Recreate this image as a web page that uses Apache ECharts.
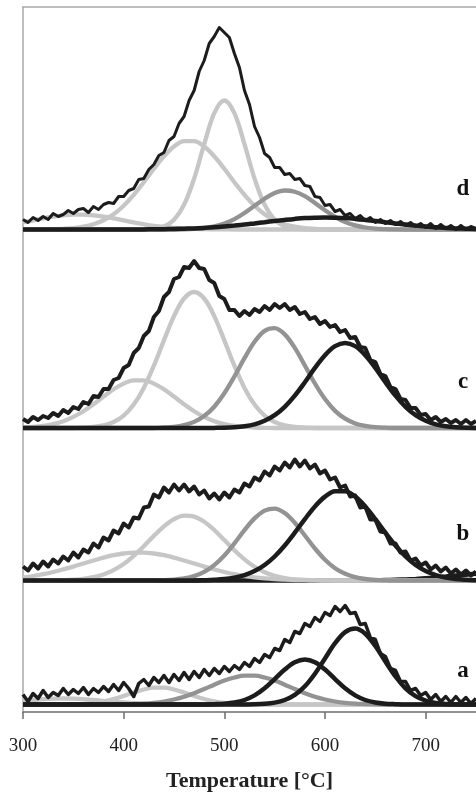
<!DOCTYPE html>
<html><head><meta charset="utf-8">
<script src="https://cdn.jsdelivr.net/npm/echarts@6/dist/echarts.min.js"></script>
<style>html,body{margin:0;padding:0;background:#fff}#c{width:476px;height:797px}</style>
</head><body><div id="c"></div>
<script>
// ---- data ----
const temps10 = [300,310,320,330,340,350,360,370,380,390,400,410,420,430,440,450,460,470,480,490,500,510,520,530,540,550,560,570,580,590,600,610,620,630,640,650,660,670,680,690,700,710,720,730,740,750];
const temps5 = [300,305,310,315,320,325,330,335,340,345,350,355,360,365,370,375,380,385,390,395,400,405,410,415,420,425,430,435,440,445,450,455,460,465,470,475,480,485,490,495,500,505,510,515,520,525,530,535,540,545,550,555,560,565,570,575,580,585,590,595,600,605,610,615,620,625,630,635,640,645,650,655,660,665,670,675,680,685,690,695,700,705,710,715,720,725,730,735,740,745,750];
const xTicks = [300,400,500,600,700];
const panelLabels = ['d','c','b','a'];
const xTitle = 'Temperature [°C]';

// panel d
const dMeas = [10,7,12,9,13,10,16,13,15,19,16,20,21,17,23,20,25,27,26,33,33,39,41,50,51,60,65,74,77,89,93,106,113,129,139,158,169,186,193,202,197,192,176,162,139,125,103,92,76,72,62,62,55,56,50,51,44,43,33,32,24,25,18,20,14,16,11,14,9,12,7,10,6,9,5,8,4,7,3,6,2,6,1,5,1,4,0,4,0,3,1];
const d1 = [7.1,9.1,11.1,12.9,14.2,14.9,14.9,14.2,12.9,11.1,9.1,7.1,5.3,3.7,2.5,1.6,1.0,0.6,0.3,0.2,0.1,0,0,0,0,0,0,0,0,0,0,0,0,0,0,0,0,0,0,0,0,0,0,0,0,0];
const d2 = [0,0,0.1,0.3,0.7,1.4,2.8,5.3,9.3,15.3,23.8,34.6,47.3,60.7,73.2,83.0,88.3,88.3,83.0,73.2,60.7,47.3,34.6,23.8,15.3,9.3,5.3,2.8,1.4,0.7,0.3,0.1,0,0,0,0,0,0,0,0,0,0,0,0,0,0];
const d3 = [0,0,0,0,0,0,0,0,0,0,0,0,0.2,0.8,3.1,9.8,24.7,50.9,85.3,116.3,129,116.3,85.3,50.9,24.7,9.8,3.1,0.8,0.2,0,0,0,0,0,0,0,0,0,0,0,0,0,0,0,0,0];
const d4 = [0,0,0,0,0,0,0,0,0,0,0,0,0,0,0,0,0.2,0.6,1.5,3.1,6.0,10.4,16.5,23.7,30.8,36.4,39.0,37.8,33.3,26.6,19.3,12.7,7.5,4.1,2.0,0.9,0.4,0.1,0,0,0,0,0,0,0,0];
const d5 = [0,0,0,0,0,0,0,0,0,0,0,0,0.1,0.2,0.3,0.5,0.8,1.1,1.6,2.2,3.0,3.9,4.9,6.1,7.3,8.5,9.6,10.6,11.4,11.8,12,11.8,11.4,10.6,9.6,8.5,7.3,6.1,4.9,3.9,3.0,2.2,1.6,1.1,0.8,0.5];

// panel c
const cMeas = [9,6,11,8,12,10,15,12,18,15,21,19,26,24,32,31,39,39,48,50,60,63,75,80,92,97,111,117,131,136,149,151,161,160,167,160,159,148,145,132,129,118,118,112,117,113,119,116,122,118,124,120,124,118,121,114,116,109,111,104,107,101,103,96,98,90,91,81,80,68,66,54,52,41,39,29,28,20,20,13,14,8,11,6,9,5,8,4,8,4,7];
const c1 = [0.5,1.1,2.1,3.9,6.8,11.1,16.8,23.8,31.4,38.7,44.4,47.6,47.6,44.4,38.7,31.4,23.8,16.8,11.1,6.8,3.9,2.1,1.1,0.5,0.2,0,0,0,0,0,0,0,0,0,0,0,0,0,0,0,0,0,0,0,0,0];
const c2 = [0,0,0,0,0,0,0.4,1.0,2.6,6.0,12.4,23.4,40.1,62.3,87.6,111.9,129.5,136,129.5,111.9,87.6,62.3,40.1,23.4,12.4,6.0,2.6,1.0,0.4,0,0,0,0,0,0,0,0,0,0,0,0,0,0,0,0,0];
const c3 = [0,0,0,0,0,0,0,0,0,0,0,0,0,0,0.5,1.2,2.9,6.1,12.0,21.3,34.7,51.5,69.8,86.2,97.1,99.8,93.6,80.1,62.5,44.5,28.9,17.1,9.3,4.6,2.1,0.8,0.3,0,0,0,0,0,0,0,0,0];
const c4 = [0,0,0,0,0,0,0,0,0,0,0,0,0,0,0,0,0,0,0,0.1,0.3,0.8,1.8,3.7,7.2,12.8,21.2,32.4,45.8,60.1,72.8,81.8,85,81.8,72.8,60.1,45.8,32.4,21.2,12.8,7.2,3.7,1.8,0.8,0.3,0.1];

// panel b
const bMeas = [14,10,17,12,19,14,21,17,24,20,28,23,31,28,37,33,43,40,50,47,57,53,63,62,73,74,86,83,93,88,96,90,96,89,94,86,90,82,87,81,88,83,91,88,97,94,103,100,109,105,114,110,118,113,121,114,120,112,116,107,110,101,103,93,95,84,85,73,74,61,61,49,48,37,37,28,29,20,22,15,18,11,15,9,13,7,11,6,10,5,9];
const b1 = [3.1,4.5,6.3,8.5,11.1,13.9,17.0,20.0,22.9,25.3,27.0,27.9,27.9,27.0,25.3,22.9,20.0,17.0,13.9,11.1,8.5,6.3,4.5,3.1,2.1,1.4,0.9,0.5,0.3,0.2,0.1,0,0,0,0,0,0,0,0,0,0,0,0,0,0,0];
const b2 = [0,0,0,0,0.3,0.8,1.7,3.3,6.0,10.3,16.4,24.6,34.3,44.6,54.1,61.3,64.8,63.9,58.8,50.5,40.5,30.2,21.1,13.7,8.3,4.7,2.5,1.2,0.6,0.3,0,0,0,0,0,0,0,0,0,0,0,0,0,0,0,0];
const b3 = [0,0,0,0,0,0,0,0,0,0,0,0,0,0,0.3,0.9,2.1,4.4,8.6,15.4,25.0,37.1,50.3,62.1,69.9,71.9,67.4,57.7,45.0,32.0,20.8,12.3,6.7,3.3,1.5,0.6,0.2,0,0,0,0,0,0,0,0,0];
const b4 = [0,0,0,0,0,0,0,0,0,0,0,0,0,0,0,0,0,0,0.3,0.7,1.4,2.9,5.4,9.4,15.5,24.0,35.0,47.8,61.4,74.1,83.9,89.3,89.3,83.9,74.1,61.4,47.8,35.0,24.0,15.5,9.4,5.4,2.9,1.4,0.7,0.3];
const b5 = [0,0,0,0,0,0,0,0,0,0,0,0,0,0,0,0,0,0,0,0,0,0,0,0,0,0,0,0,0,0,0,0,0,0,0,0.3,0.4,0.7,1.1,1.6,2.2,3.0,3.9,4.9,5.8,6.7];

// panel a
const aMeas = [10,3,11,6,14,7,12,9,16,10,15,11,17,10,16,12,18,13,20,14,22,16,8,21,25,19,27,22,29,22,30,24,32,25,33,27,35,29,36,31,38,33,39,35,42,38,46,42,50,47,56,54,65,62,73,71,81,78,87,83,92,89,98,93,99,91,92,80,81,67,65,51,48,36,34,23,23,14,16,9,12,5,10,3,8,2,8,2,7,1,6];
const a0 = [3.6,4.5,5.3,5.8,6,5.8,5.3,4.5,3.6,2.7,2.0,1.3,0.8,0.5,0.3,0.2,0.1,0,0,0,0,0,0,0,0,0,0,0,0,0,0,0,0,0,0,0,0,0,0,0,0,0,0,0,0,0];
const a1 = [0,0,0,0,0.1,0.3,0.7,1.6,3.2,5.5,8.6,12.0,15.0,16.8,16.8,15.0,12.0,8.6,5.5,3.2,1.6,0.7,0.3,0.1,0,0,0,0,0,0,0,0,0,0,0,0,0,0,0,0,0,0,0,0,0,0];
const a2 = [0,0,0,0,0,0,0,0,0,0,0.2,0.5,0.9,1.7,3.0,5.0,7.7,11.3,15.4,19.8,23.9,27.0,28.8,28.8,27.0,23.9,19.8,15.4,11.3,7.7,5.0,3.0,1.7,0.9,0.5,0.2,0,0,0,0,0,0,0,0,0,0];
const a3 = [0,0,0,0,0,0,0,0,0,0,0,0,0,0,0,0,0,0,0,0.3,0.8,2.0,4.5,9.1,16.2,25.4,34.9,42.2,45,42.2,34.9,25.4,16.2,9.1,4.5,2.0,0.8,0.3,0,0,0,0,0,0,0,0];
const a4 = [0,0,0,0,0,0,0,0,0,0,0,0,0,0,0,0,0,0,0,0,0,0,0.1,0.2,0.7,1.9,4.5,9.6,18.2,30.8,46.1,61.3,72.4,76.0,70.8,58.5,42.9,28.0,16.2,8.3,3.8,1.5,0.6,0.2,0,0];

// ---- styling / layout ----
const LIGHT = '#c6c6c6', MID = '#939393', DARK = '#1c1c1c';
const FONT = '"Liberation Serif", "Times New Roman", serif';
const W = 476, H = 797;
const baselines = [229.5, 428, 580.5, 704.5];
const tops = [7, 229.5, 428, 580.5];
const labelY = [189, 382, 534, 671];
const measWidth = [3, 4, 4, 3.5];

const panels = [
  {comps: [[d1, LIGHT], [d2, LIGHT], [d3, LIGHT], [d4, MID], [d5, DARK]], meas: dMeas},
  {comps: [[c1, LIGHT], [c2, LIGHT], [c3, MID], [c4, DARK]], meas: cMeas},
  {comps: [[b5, DARK], [b1, LIGHT], [b2, LIGHT], [b3, MID], [b4, DARK]], meas: bMeas},
  {comps: [[a0, LIGHT], [a1, LIGHT], [a2, MID], [a3, DARK], [a4, DARK]], meas: aMeas}
];

const zip = (xs, ys) => xs.map((x, i) => [x, ys[i]]);

const grid = [{left: 23, right: -3, top: 7, bottom: H - 714}];
const xAxis = [
  {gridIndex: 0, type: 'value', min: 300, max: 750, interval: 100, position: 'bottom',
   axisLine: {show: true, lineStyle: {color: '#6e6e6e', width: 1.5}},
   axisTick: {show: true, inside: false, length: 7, lineStyle: {color: '#6e6e6e', width: 1.5}},
   axisLabel: {show: true, fontFamily: FONT, fontSize: 19, color: '#222', margin: 25, showMaxLabel: false,
     formatter: v => xTicks.includes(v) ? String(v) : ''},
   splitLine: {show: false},
   name: xTitle, nameLocation: 'middle', nameGap: 58,
   nameTextStyle: {fontFamily: FONT, fontSize: 22, fontWeight: 'bold', color: '#222'}},
  {gridIndex: 0, type: 'value', min: 300, max: 750, position: 'top',
   axisLine: {show: true, lineStyle: {color: '#a8a8a8', width: 1.5}},
   axisTick: {show: false}, axisLabel: {show: false}, splitLine: {show: false}}
];
const yAxis = [
  {gridIndex: 0, type: 'value', min: 0, max: 1,
   axisLine: {show: true, lineStyle: {color: '#a8a8a8', width: 1.5}},
   axisTick: {show: false}, axisLabel: {show: false}, splitLine: {show: false}}
];
const series = [];
const graphic = [];

panels.forEach((p, k) => {
  const gi = k + 1;
  const h = baselines[k] - tops[k];
  grid.push({left: 23, right: -3, top: tops[k], bottom: H - baselines[k]});
  xAxis.push({gridIndex: gi, type: 'value', min: 300, max: 750, show: false});
  yAxis.push({gridIndex: gi, type: 'value', min: 0, max: h, show: false});
  p.comps.forEach(([arr, col]) => {
    series.push({type: 'line', xAxisIndex: k + 2, yAxisIndex: gi, data: zip(temps10, arr),
      smooth: 0.35, showSymbol: false, clip: false, silent: true,
      lineStyle: {color: col, width: col === DARK ? 4.5 : 4.3}});
  });
  series.push({type: 'line', xAxisIndex: k + 2, yAxisIndex: gi, data: zip(temps5, p.meas),
    smooth: false, showSymbol: false, clip: false, silent: true,
    lineStyle: {color: DARK, width: measWidth[k], join: 'round'}});
  graphic.push({type: 'text', x: 463, y: labelY[k],
    style: {text: panelLabels[k], font: 'bold 23px ' + FONT, fill: '#111', align: 'center', verticalAlign: 'middle'}});
});

const chart = echarts.init(document.getElementById('c'), null, {renderer: 'canvas'});
chart.setOption({animation: false, backgroundColor: '#fff', grid, xAxis, yAxis, series, graphic});
</script>
</body></html>
